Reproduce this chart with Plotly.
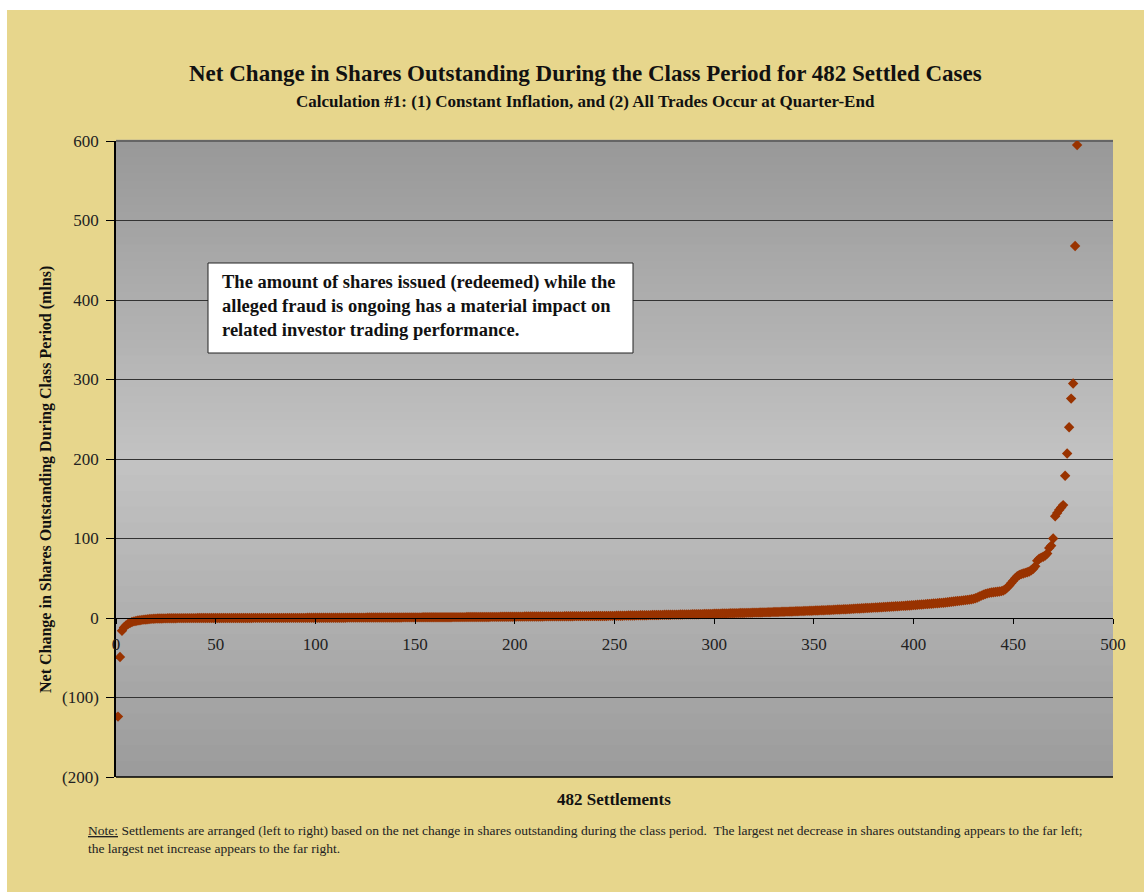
import plotly.graph_objects as go

# Net change in shares outstanding (millions), sorted ascending, one value per settlement
neg_tail = [-124.0, -49.0, -16.0, -12.0, -9.5, -7.6, -6.2, -5.1, -4.3, -3.7,
            -3.2, -2.8, -2.4, -2.1, -1.8, -1.5, -1.3, -1.1, -0.9, -0.8]
near_zero_a = [-0.7, -0.6, -0.6, -0.5, -0.5, -0.4, -0.4, -0.3, -0.3, -0.3,
               -0.2, -0.2, -0.2, -0.2, -0.1, -0.1, -0.1, -0.1, -0.1, -0.1,
               0.0, 0.0, 0.0, 0.0, 0.0, 0.0, 0.0, 0.0, 0.0, 0.0,
               0.0, 0.0, 0.0, 0.0, 0.0, 0.0, 0.0, 0.0, 0.0, 0.0]
near_zero_b = [0.0, 0.0, 0.0, 0.0, 0.0, 0.0, 0.0, 0.0, 0.1, 0.1,
               0.1, 0.1, 0.1, 0.1, 0.1, 0.1, 0.1, 0.1, 0.1, 0.1,
               0.1, 0.1, 0.1, 0.1, 0.1, 0.2, 0.2, 0.2, 0.2, 0.2,
               0.2, 0.2, 0.2, 0.2, 0.2, 0.3, 0.3, 0.3, 0.3, 0.3]
small_a = [0.3, 0.3, 0.3, 0.3, 0.3, 0.4, 0.4, 0.4, 0.4, 0.4,
           0.4, 0.4, 0.4, 0.4, 0.4, 0.5, 0.5, 0.5, 0.5, 0.5,
           0.5, 0.5, 0.5, 0.5, 0.5, 0.6, 0.6, 0.6, 0.6, 0.6,
           0.6, 0.6, 0.6, 0.6, 0.6, 0.7, 0.7, 0.7, 0.7, 0.7,
           0.7, 0.7, 0.7, 0.8, 0.8, 0.8, 0.8, 0.8, 0.8, 0.8]
small_b = [0.8, 0.8, 0.8, 0.9, 0.9, 0.9, 0.9, 0.9, 0.9, 0.9,
           1.0, 1.0, 1.0, 1.0, 1.0, 1.0, 1.0, 1.0, 1.1, 1.1,
           1.1, 1.1, 1.1, 1.1, 1.1, 1.2, 1.2, 1.2, 1.2, 1.2,
           1.2, 1.3, 1.3, 1.3, 1.3, 1.3, 1.3, 1.4, 1.4, 1.4,
           1.4, 1.4, 1.5, 1.5, 1.5, 1.5, 1.6, 1.6, 1.6, 1.6]
small_c = [1.7, 1.7, 1.7, 1.7, 1.8, 1.8, 1.8, 1.8, 1.8, 1.9,
           1.9, 1.9, 1.9, 1.9, 2.0, 2.0, 2.0, 2.0, 2.0, 2.1,
           2.1, 2.1, 2.1, 2.1, 2.2, 2.2, 2.2, 2.2, 2.2, 2.3,
           2.3, 2.3, 2.3, 2.3, 2.4, 2.4, 2.4, 2.4, 2.5, 2.5,
           2.5, 2.5, 2.6, 2.6, 2.6, 2.6, 2.7, 2.7, 2.7, 2.7]
mid_a = [2.8, 2.8, 2.9, 2.9, 3.0, 3.0, 3.1, 3.1, 3.2, 3.2,
         3.3, 3.3, 3.4, 3.4, 3.5, 3.5, 3.6, 3.6, 3.7, 3.7,
         3.8, 3.8, 3.9, 3.9, 4.0, 4.0, 4.1, 4.1, 4.2, 4.2,
         4.3, 4.3, 4.4, 4.4, 4.5, 4.5, 4.6, 4.6, 4.7, 4.7,
         4.8, 4.8, 4.9, 4.9, 5.0, 5.0, 5.1, 5.1, 5.2, 5.3]
mid_b = [5.4, 5.5, 5.5, 5.6, 5.7, 5.7, 5.8, 5.9, 5.9, 6.0,
         6.1, 6.1, 6.2, 6.3, 6.3, 6.4, 6.5, 6.5, 6.6, 6.7,
         6.8, 6.8, 6.9, 7.0, 7.1, 7.1, 7.2, 7.3, 7.4, 7.5,
         7.5, 7.6, 7.7, 7.8, 7.9, 8.0, 8.0, 8.1, 8.2, 8.3,
         8.4, 8.5, 8.6, 8.7, 8.8, 8.9, 9.0, 9.1, 9.2, 9.3]
mid_c = [9.4, 9.5, 9.6, 9.7, 9.8, 9.9, 10.0, 10.1, 10.2, 10.4,
         10.5, 10.6, 10.7, 10.9, 11.0, 11.1, 11.2, 11.4, 11.5, 11.6,
         11.8, 11.9, 12.0, 12.2, 12.3, 12.5, 12.6, 12.7, 12.9, 13.0,
         13.2, 13.3, 13.5, 13.6, 13.8, 13.9, 14.1, 14.2, 14.4, 14.5,
         14.7, 14.8, 15.0, 15.2, 15.3, 15.5, 15.7, 15.8, 16.0, 16.2]
upper_a = [16.4, 16.6, 16.8, 17.0, 17.2, 17.4, 17.6, 17.8, 18.0, 18.2,
           18.4, 18.6, 18.8, 19.0, 19.2, 19.5, 19.8, 20.1, 20.4, 20.7,
           21.0, 21.3, 21.6, 21.9, 22.2, 22.5, 22.8, 23.1, 23.5, 24.0]
upper_b = [24.8, 25.8, 27.0, 28.2, 29.3, 30.2, 31.0, 31.6, 32.0, 32.4,
           32.7, 33.0, 33.3, 33.8, 34.5, 36.0]
upper_c = [38.5, 41.0, 44.0, 47.0, 50.0, 52.5, 54.0, 55.2, 56.0, 56.8,
           57.5, 58.5, 60.0, 62.0, 65.0, 72.0, 74.5, 76.0, 77.0, 78.5,
           81.0, 88.0, 91.0, 100.0]
pos_tail = [128.0, 132.0, 136.0, 139.0, 142.0, 179.0, 207.0, 240.0,
            276.0, 295.0, 468.0, 595.0]

net_change = (neg_tail + near_zero_a + near_zero_b + small_a + small_b + small_c
              + mid_a + mid_b + mid_c + upper_a + upper_b + upper_c + pos_tail)
settlement_no = list(range(1, len(net_change) + 1))

y_tick_vals = [-200, -100, 0, 100, 200, 300, 400, 500, 600]
y_tick_text = ["(200)", "(100)", "0", "100", "200", "300", "400", "500", "600"]
x_tick_vals = [0, 50, 100, 150, 200, 250, 300, 350, 400, 450, 500]

SERIF = "Palatino Linotype, Book Antiqua, Palatino, Liberation Serif, serif"
TAN = "#E7D68C"
MARK = "#993300"

# plot area in page pixels
L, R, T, B = 116, 1113, 141, 777
PW, PH = R - L, B - T


def px(xp):
    return (xp - L) / PW


def py(yp):
    return (B - yp) / PH


fig = go.Figure()
fig.add_trace(go.Scatter(
    x=settlement_no, y=net_change, mode="markers",
    marker=dict(symbol="diamond", size=8, color=MARK, line=dict(width=0)),
    hoverinfo="x+y", showlegend=False,
))

shapes = []
# tan backdrop, inset slightly from the top/left page edge
shapes.append(dict(type="rect", xref="paper", yref="paper", layer="below",
                   x0=px(7), x1=px(1144), y0=py(892), y1=py(10),
                   fillcolor=TAN, line=dict(width=0)))

# vertical grey gradient inside the plot area (dark at edges, light in the middle)
top_g, mid_g, bot_g = 0x98, 0xC3, 0x9B
n_bands = 80
light_at = 0.5
for i in range(n_bands):
    f0 = i / n_bands
    f1 = (i + 1) / n_bands
    fm = (f0 + f1) / 2  # 0 = bottom, 1 = top
    if fm < light_at:
        v = bot_g + (mid_g - bot_g) * (fm / light_at)
    else:
        v = mid_g + (top_g - mid_g) * ((fm - light_at) / (1 - light_at))
    g = int(round(v))
    shapes.append(dict(type="rect", xref="x domain", yref="y domain", layer="below",
                       x0=0, x1=1, y0=f0, y1=f1 + 0.002,
                       fillcolor=f"rgb({g},{g},{g})", line=dict(width=0)))
# plot frame: top edge and bottom edge
shapes.append(dict(type="line", xref="x domain", yref="y domain", layer="below",
                   x0=0, x1=1, y0=1, y1=1, line=dict(color="#555555", width=1.5)))
shapes.append(dict(type="line", xref="x domain", yref="y domain", layer="above",
                   x0=0, x1=1, y0=0, y1=0, line=dict(color="#000000", width=1.5)))
# white call-out box
shapes.append(dict(type="rect", xref="paper", yref="paper", layer="above",
                   x0=px(208), x1=px(633), y0=py(353), y1=py(263),
                   fillcolor="#FFFFFF", line=dict(color="#222222", width=1)))

annotations = [
    dict(text="<b>Net Change in Shares Outstanding During the Class Period for 482 Settled Cases</b>",
         xref="paper", yref="paper", x=px(585), y=py(73),
         showarrow=False, font=dict(family=SERIF, size=23, color="#111111"),
         xanchor="center", yanchor="middle"),
    dict(text="<b>Calculation #1: (1) Constant Inflation, and (2) All Trades Occur at Quarter-End</b>",
         xref="paper", yref="paper", x=px(585), y=py(101),
         showarrow=False, font=dict(family=SERIF, size=17, color="#111111"),
         xanchor="center", yanchor="middle"),
    dict(text="<b>Net Change in Shares Outstanding During Class Period (mlns)</b>",
         xref="paper", yref="paper", x=px(46), y=py(480),
         textangle=-90, showarrow=False,
         font=dict(family=SERIF, size=16, color="#111111"),
         xanchor="center", yanchor="middle"),
    dict(text="<b>482 Settlements</b>",
         xref="paper", yref="paper", x=px(614), y=py(799),
         showarrow=False, font=dict(family=SERIF, size=17, color="#111111"),
         xanchor="center", yanchor="middle"),
    dict(text=("<u>Note:</u> Settlements are arranged (left to right) based on the net change in shares "
               "outstanding during the class period.  The largest net decrease in shares outstanding "
               "appears to the far left;<br>the largest net increase appears to the far right."),
         xref="paper", yref="paper", x=px(86), y=py(821),
         showarrow=False, align="left", font=dict(family=SERIF, size=13.5, color="#222222"),
         xanchor="left", yanchor="top"),
    dict(text=("<b>The amount of shares issued (redeemed) while the<br>"
               "alleged fraud is ongoing has a material impact on<br>"
               "related investor trading performance.</b>"),
         xref="paper", yref="paper", x=px(220), y=py(306),
         showarrow=False, align="left", xanchor="left", yanchor="middle",
         font=dict(family=SERIF, size=18.5, color="#111111")),
]

fig.update_layout(
    width=1144, height=892,
    margin=dict(l=L, r=1144 - R, t=T, b=892 - B),
    paper_bgcolor="#FFFFFF",
    plot_bgcolor="rgba(0,0,0,0)",
    shapes=shapes,
    annotations=annotations,
    font=dict(family=SERIF, size=17, color="#222222"),
    showlegend=False,
)
fig.update_yaxes(
    range=[-200, 600], tickvals=y_tick_vals, ticktext=y_tick_text,
    showgrid=True, gridcolor="#333333", gridwidth=1,
    zeroline=False, showline=True, linecolor="#000000", linewidth=1.5,
    ticks="outside", ticklen=8, tickcolor="#000000", ticklabelstandoff=4,
    tickfont=dict(family=SERIF, size=17, color="#222222"),
)
fig.update_xaxes(
    range=[0, 500], tickvals=x_tick_vals,
    anchor="free", position=0.25,
    showgrid=False, zeroline=False, showline=True, linecolor="#000000", linewidth=1,
    ticks="outside", ticklen=5, tickcolor="#000000", ticklabelstandoff=6,
    tickfont=dict(family=SERIF, size=17, color="#222222"),
)

fig.write_html("out.html")
